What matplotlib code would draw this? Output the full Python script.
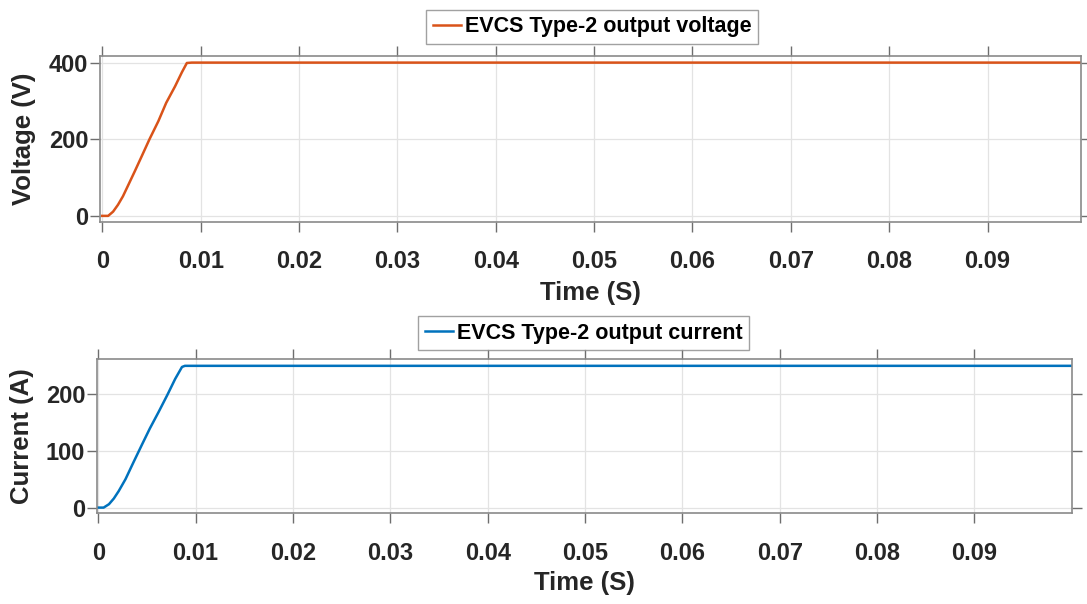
import matplotlib
matplotlib.use("Agg")
import matplotlib.pyplot as plt

# start-up ramp then flat
t_volt = [0.0, 0.0006, 0.0011, 0.0016, 0.0021, 0.0026, 0.0033, 0.0040, 0.0048,
          0.0057, 0.0065, 0.0074, 0.0081, 0.0086, 0.0091, 0.1]
v_out = [0, 0, 11, 29, 51, 78, 116, 155, 200, 247, 295, 338, 375, 399, 400, 400]

t_curr = [0.0, 0.00055, 0.0011, 0.0016, 0.0021, 0.0028, 0.0036, 0.0045, 0.0053,
          0.0062, 0.0071, 0.0079, 0.0086, 0.0089, 0.1]
i_out = [0, 0, 6, 16, 29, 50, 79, 111, 139, 168, 198, 226, 247, 249, 249]

x_ticks = [0, 0.01, 0.02, 0.03, 0.04, 0.05, 0.06, 0.07, 0.08, 0.09]
x_ticklabels = ["0", "0.01", "0.02", "0.03", "0.04", "0.05", "0.06", "0.07", "0.08", "0.09"]
v_ticks = [0, 200, 400]
i_ticks = [0, 100, 200]

plt.rcParams["font.family"] = ["Liberation Sans", "DejaVu Sans"]
plt.rcParams["font.weight"] = "bold"

W, H = 1087, 604
fig = plt.figure(figsize=(W / 100, H / 100), dpi=100)


def px_axes(left, top, right, bottom):
    return fig.add_axes([left / W, 1 - bottom / H, (right - left) / W, (bottom - top) / H])


def style(ax, yticks, ylabel, xlab_y):
    ax.set_xticks(x_ticks)
    ax.set_xticklabels(x_ticklabels)
    ax.set_yticks(yticks)
    ax.tick_params(direction="out", top=True, right=True, length=7.5, width=1,
                   color="#6e6e6e", labelsize=17, labelcolor="#262626")
    ax.tick_params(axis="x", pad=13)
    ax.tick_params(axis="y", pad=1)
    for lab in ax.get_xticklabels() + ax.get_yticklabels():
        lab.set_fontweight("bold")
    for sp in ax.spines.values():
        sp.set_color("#8a8a8a")
        sp.set_linewidth(1.2)
    ax.grid(True, color="#e3e3e3", linewidth=0.9)
    ax.set_axisbelow(True)
    ax.set_xlabel("Time (S)", fontsize=18.5, fontweight="bold", color="#262626")
    ax.xaxis.label.set_va("center")
    ax.xaxis.set_label_coords(0.5, xlab_y)
    ax.set_ylabel(ylabel, fontsize=18.5, fontweight="bold", color="#262626")
    ax.yaxis.label.set_va("center")
    ax.yaxis.set_label_coords(-0.077, 0.5)


ax1 = px_axes(100, 55.7, 1081, 222)
ax1.plot(t_volt, v_out, color="#D95319", linewidth=1.8, label="EVCS Type-2 output voltage")
ax1.set_xlim(-0.00023, 0.0995)
ax1.set_ylim(-16, 418)
style(ax1, v_ticks, "Voltage (V)", -0.427)

ax2 = px_axes(97, 359, 1071.7, 513.3)
ax2.plot(t_curr, i_out, color="#0072BD", linewidth=1.8, label="EVCS Type-2 output current")
ax2.set_xlim(-0.00013, 0.1)
ax2.set_ylim(-10, 261)
style(ax2, i_ticks, "Current (A)", -0.452)

for ax, cx, cy in [(ax1, 592, 26.7), (ax2, 583.5, 333)]:
    leg = ax.legend(loc="center", bbox_to_anchor=(cx / W, 1 - cy / H),
                    bbox_transform=fig.transFigure, fontsize=15.5, frameon=True,
                    fancybox=False, handlelength=1.3, handletextpad=0.2,
                    borderpad=0.3, borderaxespad=0)
    leg.get_frame().set_edgecolor("#8a8a8a")
    leg.get_frame().set_linewidth(1.0)
    for txt in leg.get_texts():
        txt.set_fontweight("bold")

fig.savefig("out.png", dpi=100)
